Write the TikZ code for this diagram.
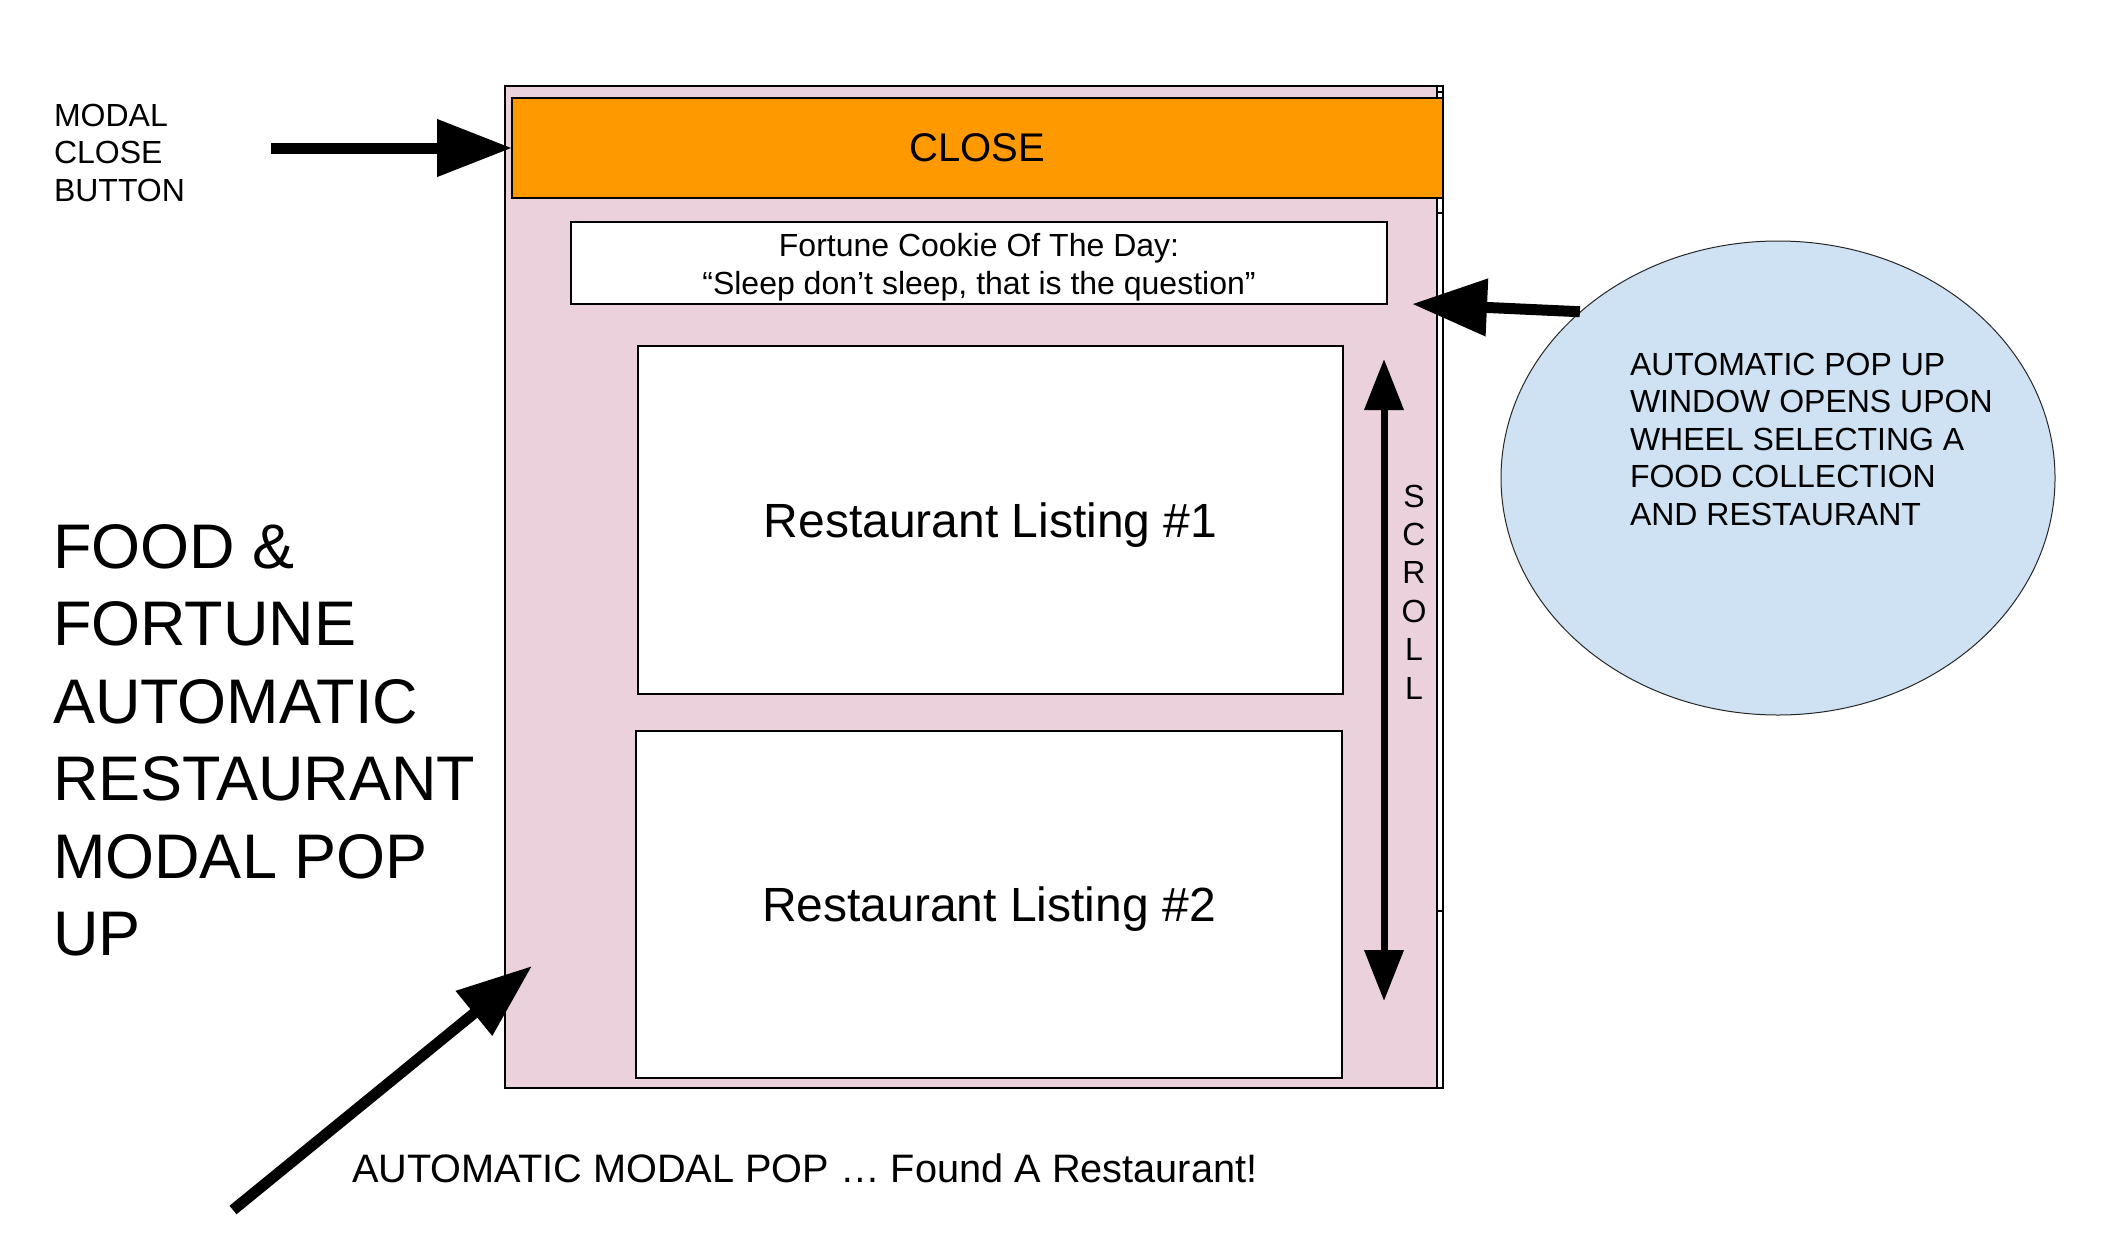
\documentclass[tikz,border=0pt]{standalone}
\usepackage{fontspec}
\setmainfont{Liberation Sans}
\usetikzlibrary{arrows.meta,shapes.geometric}
\definecolor{modalpink}{HTML}{EAD1DC}
\definecolor{closeorange}{HTML}{FF9900}
\definecolor{bubbleblue}{HTML}{CFE2F3}
\begin{document}
\begin{tikzpicture}[x=1pt,y=-1pt,
  box/.style={draw=black,line width=1.5pt,inner sep=0pt,outer sep=0pt},
  plaintext/.style={inner sep=0pt,outer sep=0pt,text=black},
  fatarrow/.style={line width=11pt,-{Triangle[length=75pt,width=55pt]}},
  scrollarrow/.style={line width=7pt,{Triangle[length=51pt,width=38pt]}-{Triangle[length=51pt,width=38pt]}},
  midfont/.style={font=\fontsize{32}{37.5}\selectfont},
  bigfont/.style={font=\fontsize{48}{56}\selectfont,text depth=0pt}]
\fill[white] (0,0) rectangle (2109,1237);
\useasboundingbox (0,0) rectangle (2109,1237);

% modal window
\node[box,fill=modalpink,minimum width=932pt,minimum height=1002pt] (modal) at (971,587) {};
\node[box,fill=white,minimum width=6pt,minimum height=1002pt] (strip) at (1440,587) {};
\draw[line width=1.5pt] (1437,92) -- (1443,92);
\draw[line width=1.5pt] (1437,213) -- (1443,213);
\draw[line width=1.5pt] (1437,911) -- (1443,911);

\node[box,fill=closeorange,minimum width=931pt,minimum height=100pt,font=\fontsize{40}{48}\selectfont] (close) at (977.5,148) {CLOSE};

\node[box,fill=white,minimum width=816pt,minimum height=82pt] (fortune) at (979,263) {};
\node[plaintext,align=center,font=\fontsize{32}{38}\selectfont] (fortunetext) at (979,267) {Fortune Cookie Of The Day:\\“Sleep don’t sleep, that is the question”};

\node[box,fill=white,minimum width=705pt,minimum height=348pt,bigfont] (listing1) at (990.5,520) {Restaurant Listing \#1};
\node[box,fill=white,minimum width=706pt,minimum height=347pt,bigfont] (listing2) at (989,904.5) {Restaurant Listing \#2};

% scroll
\coordinate (scrolltop) at (1384,359);
\coordinate (scrollbot) at (1384,1001);
\draw[scrollarrow] (scrolltop) -- (scrollbot);
\node[plaintext,align=center,font=\fontsize{32}{38.4}\selectfont] (scrolllabel) at (1414,592) {S\\C\\R\\O\\L\\L};

% bubble
\node[draw=black!85,line width=1pt,fill=bubbleblue,ellipse,minimum width=554pt,minimum height=474pt,inner sep=0pt] (bubble) at (1778,478) {};
\node[plaintext,anchor=north west,align=left,midfont] (bubbletext) at (1630,353) {AUTOMATIC POP UP\\WINDOW OPENS UPON\\WHEEL SELECTING A\\FOOD COLLECTION\\AND RESTAURANT};
\coordinate (fortunetip) at ([xshift=25pt]fortune.south east);
\draw[fatarrow] (bubble.140) -- (fortunetip);

% modal close button label
\node[plaintext,anchor=north west,align=left,midfont] (mcblabel) at (54,104) {MODAL\\CLOSE\\BUTTON};
\coordinate (mcbtail) at (271,148);
\draw[fatarrow] (mcbtail) -- (close.west);

% title
\node[plaintext,anchor=north west,align=left,font=\fontsize{63}{77.5}\selectfont] (title) at (53,524) {FOOD \&\\FORTUNE\\AUTOMATIC\\RESTAURANT\\MODAL POP\\UP};

% bottom
\coordinate (poptail) at (233,1210);
\coordinate (poptip) at (532,966);
\draw[fatarrow] (poptail) -- (poptip);
\node[plaintext,anchor=base west,font=\fontsize{39.7}{47}\selectfont] (poptext) at (352,1182) {AUTOMATIC MODAL POP … Found A Restaurant!};
\end{tikzpicture}
\end{document}
